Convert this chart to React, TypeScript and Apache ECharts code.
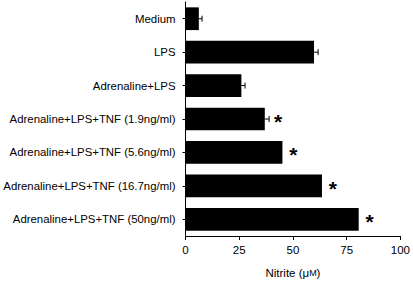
import React, { useEffect, useRef } from "react";
import * as echarts from "echarts";

const categories = [
  "Medium",
  "LPS",
  "Adrenaline+LPS",
  "Adrenaline+LPS+TNF (1.9ng/ml)",
  "Adrenaline+LPS+TNF (5.6ng/ml)",
  "Adrenaline+LPS+TNF (16.7ng/ml)",
  "Adrenaline+LPS+TNF (50ng/ml)",
];
const values = [6.2, 59.8, 26.0, 36.9, 45.1, 63.5, 80.6];
const errors = [1.5, 1.9, 1.7, 2.0, 0, 0, 0];
const significant = [false, false, false, true, true, true, true];
const xTicks = [0, 25, 50, 75, 100];

export default function App() {
  const ref = useRef<HTMLDivElement>(null);
  useEffect(() => {
    if (!ref.current) return;
    const chart = echarts.init(ref.current, null, { renderer: "svg" });
    const font = "Liberation Sans, Arial, Helvetica, sans-serif";
    const cats = [...categories].reverse();
    const vals = [...values].reverse();
    const errs = [...errors].reverse();
    const sig = [...significant].reverse();
    chart.setOption({
      animation: false,
      grid: { left: 185.5, right: 12.5, top: 2, bottom: 49, containLabel: false },
      xAxis: {
        type: "value",
        min: xTicks[0],
        max: xTicks[xTicks.length - 1],
        interval: 25,
        splitLine: { show: false },
        axisLine: { show: true, lineStyle: { color: "#000", width: 1 } },
        axisTick: { show: true, length: 4, lineStyle: { color: "#000" } },
        axisLabel: { color: "#000", fontSize: 11.5, fontFamily: font, margin: 8 },
        name: "{a|Nitrite (μ}{b|M}{a|)}",
        nameLocation: "middle",
        nameGap: 31,
        nameTextStyle: {
          rich: {
            a: { fontSize: 11.5, fontFamily: font, color: "#000" },
            b: { fontSize: 9, fontFamily: font, color: "#000" },
          },
        },
      },
      yAxis: {
        type: "category",
        data: cats,
        axisLine: { show: true, lineStyle: { color: "#000", width: 1 } },
        axisTick: { show: true, alignWithLabel: true, length: 3, lineStyle: { color: "#000" } },
        axisLabel: { color: "#000", fontSize: 11.4, fontFamily: font, margin: 10 },
      },
      series: [
        {
          type: "bar",
          data: vals,
          barCategoryGap: "32%",
          itemStyle: { color: "#000" },
        },
        {
          type: "custom",
          data: vals.map((v, i) => [v, i, errs[i], sig[i] ? 1 : 0]),
          renderItem: (params: any, api: any) => {
            const v = api.value(0);
            const idx = api.value(1);
            const e = api.value(2);
            const s = api.value(3);
            const p0 = api.coord([v, idx]);
            const p1 = api.coord([v + e, idx]);
            const children: any[] = [];
            if (e > 0) {
              children.push({
                type: "line",
                shape: { x1: p0[0], y1: p0[1], x2: p1[0], y2: p1[1] },
                style: { stroke: "#000", lineWidth: 1 },
              });
              children.push({
                type: "line",
                shape: { x1: p1[0], y1: p1[1] - 3, x2: p1[0], y2: p1[1] + 3 },
                style: { stroke: "#000", lineWidth: 1 },
              });
            }
            if (s) {
              children.push({
                type: "text",
                x: p1[0] + (e > 0 ? 9 : 11),
                y: p1[1] + 2.5,
                style: {
                  text: "*",
                  fontSize: 21,
                  fontWeight: "bold",
                  fontFamily: font,
                  fill: "#000",
                  align: "center",
                  verticalAlign: "middle",
                },
              });
            }
            return { type: "group", children };
          },
          z: 5,
        },
      ],
    });
    return () => chart.dispose();
  }, []);
  return <div ref={ref} style={{ width: 413, height: 285, position: "absolute", left: 0, top: 0 }} />;
}
